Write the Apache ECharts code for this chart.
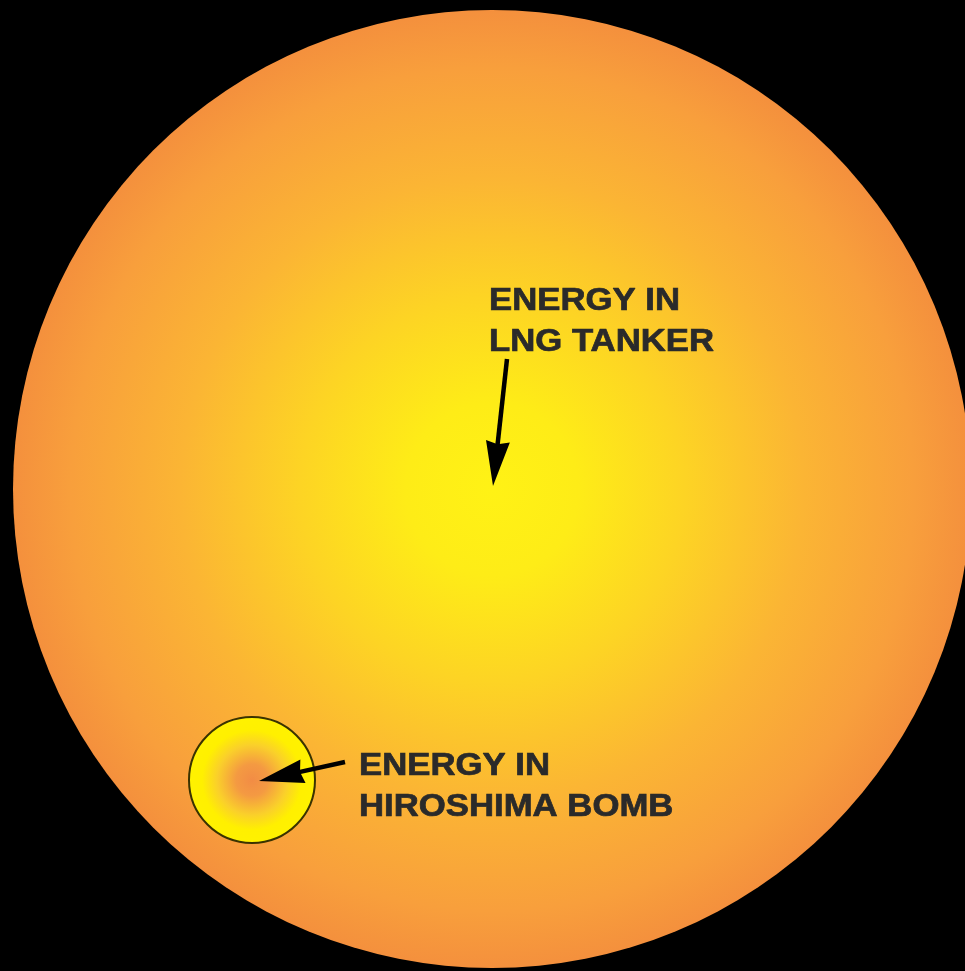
<!DOCTYPE html>
<html>
<head>
<meta charset="utf-8">
<style>
  html, body { margin: 0; padding: 0; background: #000; }
  #chart { width: 965px; height: 971px; }
</style>
<script src="https://cdn.jsdelivr.net/npm/echarts@6/dist/echarts.min.js"></script>
</head>
<body>
<div id="chart"></div>
<script>
// diagram units on hidden axes (x 0..965, y 0..971 downwards)
var bodies = ['LNG TANKER', 'HIROSHIMA BOMB'];
var centerX = [492, 252];
var centerY = [489, 780];
var radius = [479, 63];

var labels = ['ENERGY IN\nLNG TANKER', 'ENERGY IN\nHIROSHIMA BOMB'];
var labelX = [489, 359];
var labelY = [281, 746];

var arrowFromX = [507, 345];
var arrowFromY = [359, 762];
var arrowToX = [493, 259];
var arrowToY = [486, 781];

var myChart = echarts.init(document.getElementById('chart'));

// big one: yellow core going orange, small one the other way round
var fills = [
    new echarts.graphic.RadialGradient(0.5, 0.5, 0.5, [
        { offset: 0, color: '#FFF215' },
        { offset: 0.18, color: '#FEEC17' },
        { offset: 0.4, color: '#FDD424' },
        { offset: 0.65, color: '#FBB534' },
        { offset: 0.88, color: '#F89F3C' },
        { offset: 1, color: '#F4903D' }
    ]),
    new echarts.graphic.RadialGradient(0.5, 0.5, 0.5, [
        { offset: 0, color: '#F28C45' },
        { offset: 0.25, color: '#F49A42' },
        { offset: 0.55, color: '#FAD02A' },
        { offset: 0.78, color: '#FFF000' },
        { offset: 1, color: '#FFF200' }
    ])
];
var strokes = ['rgba(0,0,0,0)', '#3a3300'];
var strokeWidths = [0, 2];

var circleData = bodies.map(function (name, i) {
    return [centerX[i], centerY[i], radius[i]];
});
var labelData = labels.map(function (t, i) {
    return [labelX[i], labelY[i], t];
});
var arrowData = arrowFromX.map(function (x, i) {
    return [x, arrowFromY[i], arrowToX[i], arrowToY[i]];
});

function renderCircle(params, api) {
    var c = api.coord([api.value(0), api.value(1)]);
    var r = api.size([api.value(2), 0])[0];
    var i = params.dataIndex;
    return {
        type: 'circle',
        shape: { cx: c[0], cy: c[1], r: r },
        style: { fill: fills[i], stroke: strokes[i], lineWidth: strokeWidths[i] }
    };
}

function renderArrow(params, api) {
    var p1 = api.coord([api.value(0), api.value(1)]);
    var p2 = api.coord([api.value(2), api.value(3)]);
    var dx = p2[0] - p1[0], dy = p2[1] - p1[1];
    var len = Math.sqrt(dx * dx + dy * dy);
    var ux = dx / len, uy = dy / len;
    var headLen = 45, headW = 12;
    var bx = p2[0] - ux * headLen, by = p2[1] - uy * headLen;
    return {
        type: 'group',
        children: [
            {
                type: 'line',
                shape: { x1: p1[0], y1: p1[1], x2: bx + ux * 4, y2: by + uy * 4 },
                style: { stroke: '#000', lineWidth: 4.5 }
            },
            {
                type: 'polygon',
                shape: {
                    points: [
                        [p2[0], p2[1]],
                        [bx - uy * headW, by + ux * headW],
                        [bx + ux * 3, by + uy * 3],
                        [bx + uy * headW, by - ux * headW]
                    ]
                },
                style: { fill: '#000' }
            }
        ]
    };
}

function renderLabel(params, api) {
    var c = api.coord([api.value(0), api.value(1)]);
    return {
        type: 'text',
        x: c[0],
        y: c[1],
        scaleX: 1.12,
        style: {
            text: labels[params.dataIndex],
            fontFamily: '"Liberation Sans", Arial, sans-serif',
            fontWeight: 'bold',
            fontSize: 31,
            lineHeight: 41,
            fill: '#2a2a2a',
            stroke: '#2a2a2a',
            lineWidth: 0.7,
            align: 'left',
            verticalAlign: 'top'
        }
    };
}

var option = {
    backgroundColor: '#000',
    animation: false,
    grid: { left: 0, right: 0, top: 0, bottom: 0 },
    xAxis: { type: 'value', min: 0, max: 965, show: false },
    yAxis: { type: 'value', min: 0, max: 971, inverse: true, show: false },
    series: [
        { type: 'custom', name: 'energy', renderItem: renderCircle, data: circleData, clip: false, z: 1 },
        { type: 'custom', name: 'arrows', renderItem: renderArrow, data: arrowData, z: 3 },
        { type: 'custom', name: 'labels', renderItem: renderLabel, data: labelData, z: 4 }
    ]
};

myChart.setOption(option);
</script>
</body>
</html>
